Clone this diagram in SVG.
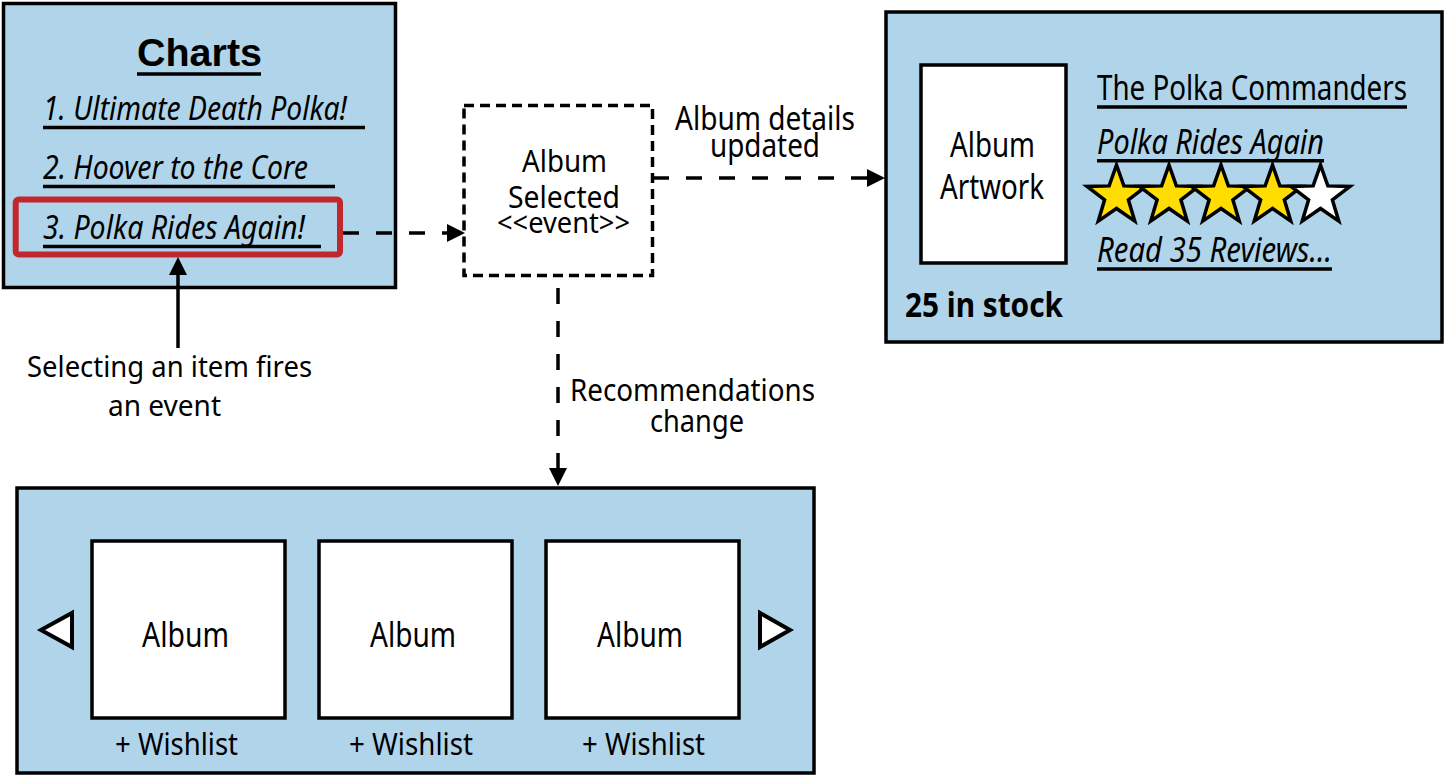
<svg xmlns="http://www.w3.org/2000/svg" width="1446" height="776" viewBox="0 0 1446 776">
  <style>
    .panel { fill: #b0d4ea; stroke: #000; stroke-width: 3.5; }
    .card { fill: #fff; stroke: #000; stroke-width: 3.5; }
    .event { fill: #fff; stroke: #000; stroke-width: 3.5; stroke-dasharray: 10 6; }
    .t { font-family: "Noto Sans", "Liberation Sans", sans-serif; fill: #000; }
    .head { font-family: "Liberation Sans", Arial, sans-serif; font-weight: bold; fill: #000; }
    .it { font-style: italic; }
    .bold { font-weight: bold; }
    .ul { stroke: #000; stroke-width: 3.5; }
    .dash { fill: none; stroke: #000; stroke-width: 3.5; stroke-dasharray: 16 17; }
    .solid { fill: none; stroke: #000; stroke-width: 3.5; }
    .star { stroke: #000; stroke-width: 3.5; stroke-linejoin: miter; }
    .nav { fill: #fff; stroke: #000; stroke-width: 4; stroke-linejoin: miter; }
  </style>
  <defs>
    <marker id="arrow" viewBox="0 0 18 18" markerWidth="18" markerHeight="18" refX="8" refY="9" markerUnits="userSpaceOnUse" orient="auto">
      <path d="M0,0 L18,9 L0,18 Z" fill="#000"/>
    </marker>
    <path id="star" d="M0,-31 L7.35,-10.11 L29.48,-9.58 L11.89,3.86 L18.22,25.08 L0,12.5 L-18.22,25.08 L-11.89,3.86 L-29.48,-9.58 L-7.35,-10.11 Z"/>
  </defs>

  <!-- Charts list (labels are drawn in a condensed cut: x scaled by 0.82) -->
  <g id="charts">
    <rect class="panel" x="3.5" y="3.5" width="392" height="284"/>
    <text class="head" x="137" y="66" font-size="39" textLength="125" lengthAdjust="spacingAndGlyphs">Charts</text>
    <line class="ul" x1="137" y1="74" x2="261" y2="74"/>
    <text class="t it" transform="translate(43 120) scale(0.82 1)" font-size="33" textLength="370.7" lengthAdjust="spacingAndGlyphs">1. Ultimate Death Polka!</text>
    <line class="ul" x1="43" y1="127.5" x2="365" y2="127.5"/>
    <text class="t it" transform="translate(43 179) scale(0.82 1)" font-size="33" textLength="323.2" lengthAdjust="spacingAndGlyphs">2. Hoover to the Core</text>
    <line class="ul" x1="43" y1="186.5" x2="335" y2="186.5"/>
    <text class="t it" transform="translate(43 239) scale(0.82 1)" font-size="33" textLength="319.5" lengthAdjust="spacingAndGlyphs">3. Polka Rides Again!</text>
    <line class="ul" x1="43" y1="246.5" x2="321" y2="246.5"/>
    <rect x="15.7" y="199.5" width="324.3" height="55" rx="3" fill="none" stroke="#c1272d" stroke-width="6"/>
  </g>

  <!-- Caption for the selection -->
  <g id="caption">
    <text class="t" transform="translate(27 377) scale(0.82 1)" font-size="29" textLength="347.6" lengthAdjust="spacingAndGlyphs">Selecting an item fires</text>
    <text class="t" transform="translate(108 416) scale(0.82 1)" font-size="29" textLength="137.8" lengthAdjust="spacingAndGlyphs">an event</text>
  </g>

  <!-- Event -->
  <g id="album-selected">
    <rect class="event" x="464" y="105.5" width="188.5" height="170"/>
    <text class="t" transform="translate(522 172) scale(0.82 1)" font-size="31" textLength="103.7" lengthAdjust="spacingAndGlyphs">Album</text>
    <text class="t" transform="translate(508 208) scale(0.82 1)" font-size="31" textLength="136.6" lengthAdjust="spacingAndGlyphs">Selected</text>
    <text class="t" transform="translate(497 233) scale(0.82 1)" font-size="29" textLength="162.2" lengthAdjust="spacingAndGlyphs">&lt;&lt;event&gt;&gt;</text>
  </g>

  <!-- Album details panel -->
  <g id="album-details">
    <rect class="panel" x="886" y="12" width="556" height="330"/>
    <rect class="card" x="921" y="65" width="145" height="198"/>
    <text class="t" transform="translate(950 157) scale(0.82 1)" font-size="34" textLength="103.7" lengthAdjust="spacingAndGlyphs">Album</text>
    <text class="t" transform="translate(940 199) scale(0.82 1)" font-size="34" textLength="126.8" lengthAdjust="spacingAndGlyphs">Artwork</text>
    <text class="t" transform="translate(1097 100) scale(0.82 1)" font-size="34" textLength="378" lengthAdjust="spacingAndGlyphs">The Polka Commanders</text>
    <line class="ul" x1="1097" y1="107" x2="1407" y2="107"/>
    <text class="t it" transform="translate(1097 154) scale(0.82 1)" font-size="34" textLength="276.8" lengthAdjust="spacingAndGlyphs">Polka Rides Again</text>
    <line class="ul" x1="1097" y1="160.7" x2="1324" y2="160.7"/>
    <use href="#star" class="star" x="1116.5" y="196" fill="#ffdd00"/>
    <use href="#star" class="star" x="1169" y="196" fill="#ffdd00"/>
    <use href="#star" class="star" x="1221" y="196" fill="#ffdd00"/>
    <use href="#star" class="star" x="1272.5" y="196" fill="#ffdd00"/>
    <use href="#star" class="star" x="1320.5" y="196" fill="#fff"/>
    <text class="t it" transform="translate(1097 262) scale(0.82 1)" font-size="34" textLength="286.6" lengthAdjust="spacingAndGlyphs">Read 35 Reviews...</text>
    <line class="ul" x1="1097" y1="269" x2="1332" y2="269"/>
    <text class="t bold" transform="translate(905 317) scale(0.82 1)" font-size="34" textLength="192.7" lengthAdjust="spacingAndGlyphs">25 in stock</text>
  </g>

  <!-- Recommendations panel -->
  <g id="recommendations">
    <rect class="panel" x="17" y="488" width="797" height="285"/>
    <polygon class="nav" points="41,630 72,613 72,647"/>
    <polygon class="nav" points="760,613 760,647 790,630"/>
    <rect class="card" x="92" y="541" width="193" height="177"/>
    <rect class="card" x="319" y="541" width="193" height="177"/>
    <rect class="card" x="546" y="541" width="193" height="177"/>
    <text class="t" transform="translate(142 647) scale(0.82 1)" font-size="34" textLength="106.1" lengthAdjust="spacingAndGlyphs">Album</text>
    <text class="t" transform="translate(370 647) scale(0.82 1)" font-size="34" textLength="104.9" lengthAdjust="spacingAndGlyphs">Album</text>
    <text class="t" transform="translate(597 647) scale(0.82 1)" font-size="34" textLength="104.9" lengthAdjust="spacingAndGlyphs">Album</text>
    <text class="t" transform="translate(115 755) scale(0.82 1)" font-size="31" textLength="150" lengthAdjust="spacingAndGlyphs">+ Wishlist</text>
    <text class="t" transform="translate(349 755) scale(0.82 1)" font-size="31" textLength="151.2" lengthAdjust="spacingAndGlyphs">+ Wishlist</text>
    <text class="t" transform="translate(582 755) scale(0.82 1)" font-size="31" textLength="150" lengthAdjust="spacingAndGlyphs">+ Wishlist</text>
  </g>

  <!-- Connectors and their labels -->
  <g id="connectors">
    <line class="solid" x1="178" y1="348" x2="178" y2="267" marker-end="url(#arrow)"/>
    <line class="dash" x1="343" y1="233" x2="455" y2="233" marker-end="url(#arrow)"/>
    <line class="dash" x1="653" y1="178" x2="875" y2="178" marker-end="url(#arrow)"/>
    <line class="dash" x1="558" y1="288" x2="558" y2="476" marker-end="url(#arrow)"/>
    <text class="t" transform="translate(675 130) scale(0.82 1)" font-size="32" textLength="219.5" lengthAdjust="spacingAndGlyphs">Album details</text>
    <text class="t" transform="translate(710 157) scale(0.82 1)" font-size="32" textLength="134.1" lengthAdjust="spacingAndGlyphs">updated</text>
    <text class="t" transform="translate(570 401) scale(0.82 1)" font-size="31" textLength="298.8" lengthAdjust="spacingAndGlyphs">Recommendations</text>
    <text class="t" transform="translate(650 432) scale(0.82 1)" font-size="31" textLength="114.6" lengthAdjust="spacingAndGlyphs">change</text>
  </g>
</svg>
